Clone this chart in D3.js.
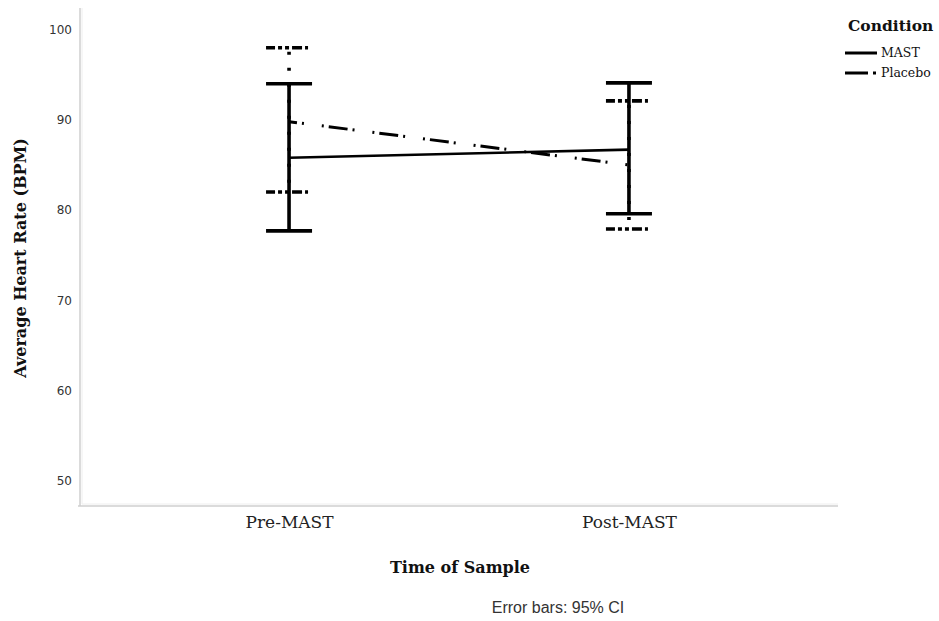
<!DOCTYPE html>
<html>
<head>
<meta charset="utf-8">
<script src="https://cdn.jsdelivr.net/npm/d3@7"></script>
<style>
  body { margin: 0; background: #fff; }
  svg { display: block; }
</style>
</head>
<body>
<div class="container"></div>
<script>
// data
var times = ["Pre-MAST", "Post-MAST"];
var conditions = ["MAST", "Placebo"];
var mastMean = [85.8, 86.7];
var mastLow = [77.7, 79.6];
var mastHigh = [94.0, 94.1];
var placeboMean = [89.8, 85.0];
var placeboLow = [82.0, 77.9];
var placeboHigh = [98.0, 92.1];
var yTicks = [50, 60, 70, 80, 90, 100];

var W = 939, H = 621;

var svg = d3.select(".container")
  .append("svg")
  .attr("width", W)
  .attr("height", H);

var x = d3.scalePoint()
  .domain(times)
  .range([80, 838])
  .padding(0.615);

var y = d3.scaleLinear()
  .domain([47.2, 102.4])
  .range([506, 8]);

// axis lines (light grey)
svg.append("line")
  .attr("x1", 80).attr("x2", 80).attr("y1", 8).attr("y2", 506)
  .attr("stroke", "#cfcfcf").attr("stroke-width", 1.5);
svg.append("line")
  .attr("x1", 82).attr("x2", 82).attr("y1", 8).attr("y2", 504)
  .attr("stroke", "#eeeeee").attr("stroke-width", 1);
svg.append("line")
  .attr("x1", 78).attr("x2", 838).attr("y1", 506).attr("y2", 506)
  .attr("stroke", "#cfcfcf").attr("stroke-width", 1.5);
svg.append("line")
  .attr("x1", 82).attr("x2", 838).attr("y1", 504).attr("y2", 504)
  .attr("stroke", "#eeeeee").attr("stroke-width", 1);

// y ticks
var yAxis = svg.append("g")
  .attr("transform", "translate(80,0)")
  .call(d3.axisLeft(y).tickValues(yTicks).tickSize(0).tickPadding(8));
yAxis.select(".domain").remove();
yAxis.selectAll("text")
  .style("font-family", "DejaVu Sans")
  .style("font-size", "12px")
  .style("fill", "#333");

// x ticks
var xAxis = svg.append("g")
  .attr("transform", "translate(0,506)")
  .call(d3.axisBottom(x).tickSize(0).tickPadding(10));
xAxis.select(".domain").remove();
xAxis.selectAll("text")
  .style("font-family", "DejaVu Serif")
  .style("font-size", "17px")
  .style("fill", "#222");

// axis titles
svg.append("text")
  .attr("x", 460).attr("y", 573)
  .attr("text-anchor", "middle")
  .style("font-family", "DejaVu Serif")
  .style("font-weight", "bold")
  .style("font-size", "16px")
  .style("fill", "#111")
  .text("Time of Sample");

svg.append("text")
  .attr("transform", "translate(26,258) rotate(-90)")
  .attr("text-anchor", "middle")
  .style("font-family", "DejaVu Serif")
  .style("font-weight", "bold")
  .style("font-size", "16px")
  .style("fill", "#111")
  .text("Average Heart Rate (BPM)");

svg.append("text")
  .attr("x", 558).attr("y", 613)
  .attr("text-anchor", "middle")
  .style("font-family", "Liberation Sans")
  .style("font-size", "16px")
  .style("fill", "#333")
  .text("Error bars: 95% CI");

var series = [
  {name: "MAST", mean: mastMean, low: mastLow, high: mastHigh,
   dash: null, capDash: null, barDash: null, lw: 2.6, bw: 3.6},
  {name: "Placebo", mean: placeboMean, low: placeboLow, high: placeboHigh,
   dash: "19,5,2,18,2,5", capDash: "9,3,4,3,4,3,10,3,3,10", barDash: "3,13", lw: 3, bw: 3.6}
];

var line = d3.line()
  .x(function(d) { return x(d.t); })
  .y(function(d) { return y(d.v); });

var capHalf = 23;

// draw placebo first so MAST sits on top
[series[1], series[0]].forEach(function(s) {
  var g = svg.append("g").attr("class", "series-" + s.name);
  times.forEach(function(t, i) {
    var cx = x(t);
    g.append("line")
      .attr("x1", cx).attr("x2", cx)
      .attr("y1", y(s.high[i])).attr("y2", y(s.low[i]))
      .attr("stroke", "#000").attr("stroke-width", s.bw)
      .attr("stroke-dasharray", s.barDash)
      .attr("stroke-dashoffset", s.barDash ? -4 : null);
    [s.high[i], s.low[i]].forEach(function(v) {
      g.append("line")
        .attr("x1", cx - capHalf).attr("x2", cx + capHalf)
        .attr("y1", y(v)).attr("y2", y(v))
        .attr("stroke", "#000").attr("stroke-width", s.bw)
        .attr("stroke-dasharray", s.capDash);
    });
  });
  g.append("path")
    .attr("d", line(times.map(function(t, i) { return {t: t, v: s.mean[i]}; })))
    .attr("fill", "none")
    .attr("stroke", "#000")
    .attr("stroke-width", s.lw)
    .attr("stroke-dasharray", s.dash)
    .attr("stroke-dashoffset", s.dash ? 11 : null);
});

// legend
var legend = svg.append("g").attr("class", "legend");
legend.append("text")
  .attr("x", 848).attr("y", 31)
  .style("font-family", "DejaVu Serif")
  .style("font-weight", "bold")
  .style("font-size", "15.5px")
  .style("fill", "#111")
  .text("Condition");

legend.selectAll(".legend-item")
  .data(series)
  .enter()
  .append("g")
  .attr("class", "legend-item")
  .attr("transform", function(d, i) { return "translate(845," + (53 + i * 20) + ")"; })
  .each(function(d) {
    var gi = d3.select(this);
    gi.append("line")
      .attr("x1", 0).attr("x2", 32).attr("y1", 0).attr("y2", 0)
      .attr("stroke", "#000").attr("stroke-width", 3)
      .attr("stroke-dasharray", d.dash ? "23,5,3,10" : null);
    gi.append("text")
      .attr("x", 36).attr("y", 0).attr("dy", "0.35em")
      .style("font-family", "DejaVu Serif")
      .style("font-size", "12.5px")
      .style("fill", "#111")
      .text(d.name);
  });
</script>
</body>
</html>
